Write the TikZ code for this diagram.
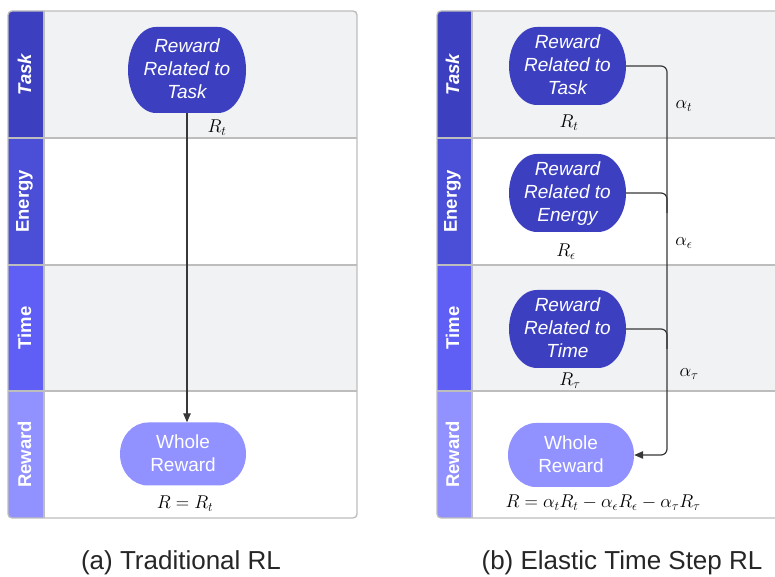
\documentclass[tikz,border=0pt]{standalone}
\usepackage{fix-cm}
\usepackage{fontspec}
\newfontfamily\lib{Liberation Sans}
\usetikzlibrary{arrows.meta,calc}

\definecolor{taskc}{HTML}{3C40C0}
\definecolor{energyc}{HTML}{4B4FD7}
\definecolor{timec}{HTML}{5F5FF6}
\definecolor{rewardc}{HTML}{9191FF}
\definecolor{lanegray}{HTML}{F1F2F4}
\definecolor{bordergray}{HTML}{BDBDBD}
\definecolor{linec}{HTML}{383838}

\tikzset{
  % pill-like box with half-elliptic ends; the text sits slightly above centre
  blob/.style 2 args={minimum width=#1, minimum height=#2, inner sep=0pt,
    text=white, align=center, font=\lib\fontsize{19}{23}\selectfont},
  blobfill/.style={path picture={
    \fill[#1] let \p1=(path picture bounding box.south west),
                  \p2=(path picture bounding box.north east),
                  \n1={(\y2-\y1)/2} in
      (\x1+28pt,\y1) -- (\x2-28pt,\y1)
      arc[start angle=-90, end angle=90, x radius=28pt, y radius=\n1]
      -- (\x1+28pt,\y2)
      arc[start angle=90, end angle=270, x radius=28pt, y radius=\n1] -- cycle;}},
  itfont/.style={font=\lib\itshape\fontsize{19}{23}\selectfont},
  lanelabel/.style={rotate=90, text=white, font=\lib\bfseries\fontsize{18.5}{22}\selectfont},
  mathlabel/.style={font=\fontsize{18.5}{22}\selectfont, inner sep=0pt},
  conn/.style={draw=linec, line width=1.2pt},
  arrowconn/.style={conn, -{Triangle[length=9pt,width=7.5pt]}},
  caption/.style={font=\lib\fontsize{26}{31}\selectfont, text=black!85},
}

\begin{document}
\begin{tikzpicture}[x=1pt,y=1pt]
\useasboundingbox (0,0) rectangle (775,577);
\clip (0,0) rectangle (775,577);
\fill[white] (0,0) rectangle (775,577);

% ---------- panel (a) ----------
\fill[lanegray] (44,439) rectangle (357,566);
\fill[lanegray] (44,186) rectangle (357,312);
\fill[taskc]   (8,439) [rounded corners=4pt] -- (8,566) [sharp corners] -- (44,566) -- (44,439) -- cycle;
\fill[energyc] (8,312) rectangle (44,439);
\fill[timec]   (8,186) rectangle (44,312);
\fill[rewardc] (44,186) -- (8,186) [rounded corners=4pt] -- (8,59) [sharp corners] -- (44,59) -- cycle;
\draw[bordergray, line width=1.3pt] (8,439) -- (357,439) (8,312) -- (357,312) (8,186) -- (357,186) (44,59) -- (44,566);
\draw[bordergray, line width=1.3pt, rounded corners=4pt] (8,59) rectangle (357,566);

\node[lanelabel, font=\lib\bfseries\itshape\fontsize{18.5}{22}\selectfont] (la) at (24.5,502.5) {Task};
\node[lanelabel] (lb) at (24.5,375.5) {Energy};
\node[lanelabel] (lc) at (24.5,249) {Time};
\node[lanelabel] (ld) at (24.5,122.5) {Reward};

\node[blob={118pt}{86pt}, blobfill=taskc, itfont, text depth=2pt] (ltask) at (187,507) {Reward\\Related to\\Task};
\node[blob={126pt}{63pt}, blobfill=rewardc, text depth=2pt] (lwhole) at (183,123) {Whole\\Reward};
\node[mathlabel] (lrt) at (217,449) {$R_t$};
\node[mathlabel] (lr) at (185,73) {$R=R_t$};

\draw[arrowconn] (ltask.south) -- (ltask.south |- lwhole.north);

% ---------- panel (b) ----------
\fill[lanegray] (472,439) rectangle (790,566);
\fill[lanegray] (472,186) rectangle (790,312);
\fill[taskc]   (437,439) [rounded corners=4pt] -- (437,566) [sharp corners] -- (472,566) -- (472,439) -- cycle;
\fill[energyc] (437,312) rectangle (472,439);
\fill[timec]   (437,186) rectangle (472,312);
\fill[rewardc] (472,186) -- (437,186) [rounded corners=4pt] -- (437,59) [sharp corners] -- (472,59) -- cycle;
\draw[bordergray, line width=1.3pt] (437,439) -- (790,439) (437,312) -- (790,312) (437,186) -- (790,186) (472,59) -- (472,566);
\draw[bordergray, line width=1.3pt, rounded corners=4pt] (437,59) rectangle (800,566);

\node[lanelabel, font=\lib\bfseries\itshape\fontsize{18.5}{22}\selectfont] (ra) at (452.5,502.5) {Task};
\node[lanelabel] (rb) at (452.5,375.5) {Energy};
\node[lanelabel] (rc) at (452.5,249) {Time};
\node[lanelabel] (rd) at (452.5,122.5) {Reward};

\node[blob={117pt}{78pt}, blobfill=taskc, itfont, text depth=2pt] (rtask) at (567.5,511) {Reward\\Related to\\Task};
\node[blob={117pt}{78pt}, blobfill=taskc, itfont, text depth=2pt] (renergy) at (567.5,384) {Reward\\Related to\\Energy};
\node[blob={117pt}{78pt}, blobfill=taskc, itfont, text depth=2pt] (rtime) at (567.5,248) {Reward\\Related to\\Time};
\node[blob={126pt}{64pt}, blobfill=rewardc, text depth=2pt] (rwhole) at (571,122) {Whole\\Reward};

\node[mathlabel] (rrt) at (569,454) {$R_t$};
\node[mathlabel] (rre) at (566,325) {$R_\epsilon$};
\node[mathlabel] (rrtau) at (570,196) {$R_\tau$};
\node[mathlabel] (rr) at (603,74) {$R=\alpha_tR_t-\alpha_\epsilon R_\epsilon-\alpha_\tau R_\tau$};

\node[mathlabel] (at) at (684,471) {$\alpha_t$};
\node[mathlabel] (ae) at (684,334) {$\alpha_\epsilon$};
\node[mathlabel] (atau) at (689,203) {$\alpha_\tau$};

\coordinate (trunk) at (667,300);
\draw[arrowconn, rounded corners=6pt] (rtask.east) -| (trunk |- rwhole.east) -- (rwhole.east);
\draw[conn, rounded corners=6pt] (renergy.east) -| ($(trunk |- renergy.east)+(0,-20)$);
\draw[conn, rounded corners=6pt] (rtime.east) -| ($(trunk |- rtime.east)+(0,-20)$);

% ---------- captions ----------
\node[caption] (capa) at (181,14) {(a) Traditional RL};
\node[caption] (capb) at (622,14) {(b) Elastic Time Step RL};
\end{tikzpicture}
\end{document}
